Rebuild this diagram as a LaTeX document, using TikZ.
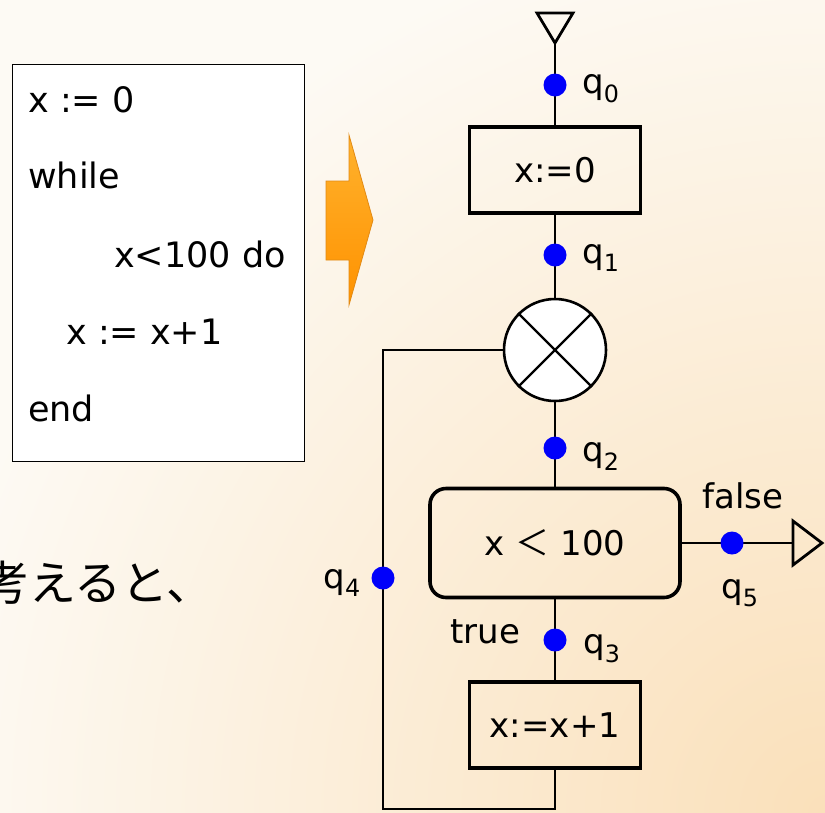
\documentclass[tikz,border=0pt]{standalone}
\usepackage{fontspec}
\setmainfont{DejaVu Sans}
\newfontfamily\jp{Noto Sans CJK JP}

\definecolor{bgbase}{RGB}{253,250,244}
\definecolor{bgpeach}{RGB}{250,224,186}
\definecolor{qblue}{RGB}{0,0,250}
\definecolor{arrowhi}{RGB}{255,178,45}
\definecolor{arrowlo}{RGB}{255,146,0}
\definecolor{arrowedge}{RGB}{226,138,20}

\begin{document}
\begin{tikzpicture}[x=1pt,y=-1pt,
    line/.style={line width=2.8pt},
    procbox/.style={draw,line width=3.6pt,minimum width=171pt,minimum height=86pt,
      inner sep=0pt,font=\fontsize{34}{40}\selectfont},
    testbox/.style={procbox,rounded corners=16pt,minimum width=250pt,minimum height=109pt},
    qdot/.style={circle,fill=qblue,inner sep=0pt,minimum size=23pt},
    qlabel/.style={inner sep=0pt,font=\fontsize{34}{40}\selectfont},
    codeline/.style={anchor=base west,inner sep=0pt,font=\fontsize{35}{42}\selectfont}]

  % page and background
  \useasboundingbox (0,0) rectangle (825,812);
  \clip (0,0) rectangle (825,812);
  \fill[bgbase] (0,0) rectangle (825,812);
  \shade[inner color=bgpeach,outer color=bgbase] (825,812) circle (900pt);

  % source program
  \node[draw,fill=white,line width=1.4pt,anchor=north west,
        minimum width=292pt,minimum height=397pt] (code) at (12,64) {};
  \node[codeline] (c1) at (28,112) {x := 0};
  \node[codeline] (c2) at (28,188) {while};
  \node[codeline] (c3) at (114,267) {x<100 do};
  \node[codeline] (c4) at (66,344) {x := x+1};
  \node[codeline] (c5) at (28,421) {end};

  % orange arrow
  \shade[top color=arrowhi,bottom color=arrowlo,draw=arrowedge,line width=0.8pt]
    (326,181) -- (349,181) -- (349,135) -- (373,220) -- (349,305)
    -- (349,260) -- (326,260) -- cycle;

  % japanese fragment
  \node[anchor=west,inner sep=0pt,font=\jp\fontsize{47}{50}\selectfont] (note) at (-18,583) {考えると、};

  % flow graph
  \coordinate (s) at (555,43);
  \coordinate (fin) at (793,543);
  \coordinate (lb) at (383,809);
  \node[procbox] (init) at (555,170) {x:=0};
  \node[circle,draw,fill=white,line width=2.6pt,minimum size=102pt,inner sep=0pt] (merge) at (555,350) {};
  \node[testbox] (test) at (555,543) {x {\jp ＜} 100};
  \node[procbox] (inc) at (555,725) {x:=x+1};

  % start and exit marks
  \draw[line,line join=miter] (537,13) -- (573,13) -- (s) -- cycle;
  \draw[line,line join=miter] (fin) -- (793,521) -- (822,543) -- (793,565) -- cycle;

  % connectors
  \draw[line] (s) -- (init);
  \draw[line] (init) -- (merge);
  \draw[line] (merge) -- (test);
  \draw[line] (test) -- (inc);
  \draw[line] (test) -- (fin);
  \draw[line] (inc) -- (inc |- lb) -- (lb) -- (lb |- merge) -- (merge);
  \draw[line width=2.2pt] (merge.north west) -- (merge.south east)
    (merge.north east) -- (merge.south west);

  % program points
  \node[qdot] (q0) at (555,85) {};
  \node[qdot] (q1) at (555,255) {};
  \node[qdot] (q2) at (555,448) {};
  \node[qdot] (q3) at (555,640) {};
  \node[qdot] (q4) at (383,578) {};
  \node[qdot] (q5) at (732,543) {};
  \node[qlabel,anchor=base west] (l0) at (582,93) {q\textsubscript{0}};
  \node[qlabel,anchor=base west] (l1) at (582,263) {q\textsubscript{1}};
  \node[qlabel,anchor=base west] (l2) at (582,461) {q\textsubscript{2}};
  \node[qlabel,anchor=base west] (l3) at (583,653) {q\textsubscript{3}};
  \node[qlabel,anchor=base east] (l4) at (361,588) {q\textsubscript{4}};
  \node[qlabel,anchor=base west] (l5) at (721,598) {q\textsubscript{5}};
  \node[qlabel,anchor=base west] (ltrue) at (450,643) {true};
  \node[qlabel,anchor=base west] (lfalse) at (702,508) {false};
\end{tikzpicture}
\end{document}
